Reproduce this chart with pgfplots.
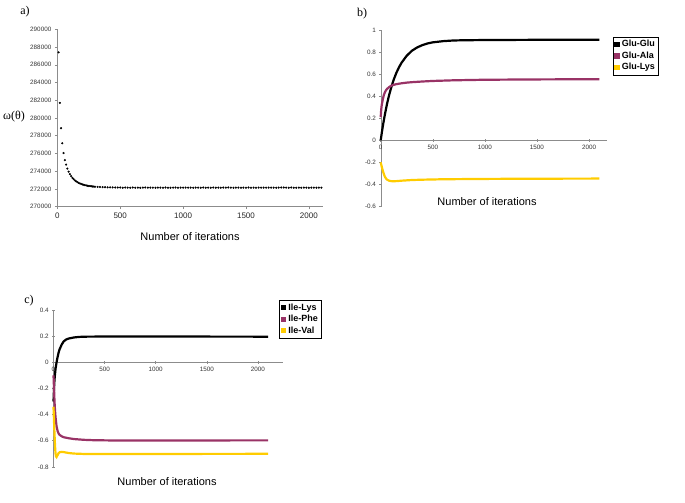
\documentclass[border=0pt]{standalone}
\usepackage{fontspec}
\setmainfont{Liberation Sans}
\newfontfamily\seriffont{Liberation Serif}
\usepackage{pgfplots}
\pgfplotsset{compat=1.18}
\definecolor{maroon}{HTML}{993366}
\definecolor{gold}{HTML}{FFCC00}
\definecolor{axgray}{HTML}{8C8C8C}
\pgfplotsset{
  base/.style={
    scale only axis,
    axis line style={axgray,-},
    tick style={axgray, line width=0.5pt},
    tick align=outside,
    major tick length=2.5pt,
    /pgf/number format/assume math mode=true,
    /pgf/number format/1000 sep={},
    scaled ticks=false,
    clip=false,
  },
  legstyle/.style={
    legend cell align=left,
    legend style={draw=black, line width=0.4pt, fill=white, font=\fontsize{9}{10.5}\selectfont\bfseries,
      inner sep=1.5pt, row sep=-0.5pt},
    legend image code/.code={\fill[##1] (0.5pt,-1.6pt) rectangle (3.7pt,1.6pt);},
  },
}
\begin{document}
\begin{tikzpicture}
\useasboundingbox (0,0) rectangle (685pt,503pt);
% ---------------- panel a
\begin{axis}[base,
  at={(57.3pt,296.3pt)}, anchor=south west,
  width=265.4pt, height=177.4pt,
  xmin=0, xmax=2110, ymin=270000, ymax=290000,
  axis x line*=bottom, axis y line*=left,
  xtick={0,500,1000,1500,2000},
  ytick={270000,272000,...,290000},
  yticklabel style={font=\fontsize{6.3}{7}\selectfont, /pgf/number format/fixed, text=black!80},
  xticklabel style={font=\fontsize{8}{9}\selectfont, text=black!85},
]
\addplot[only marks, mark=*, mark size=0.85pt, black] coordinates {
(10,287400)(20,281700)(30,278850)(40,277150)(50,276050)(60,275250)(70,274750)(80,274300)(90,273950)(100,273680)
(110,273450)(120,273260)(130,273100)(140,272970)(150,272860)(160,272770)(170,272690)(180,272620)(190,272560)(200,272510)
(210,272470)(220,272430)(230,272400)(240,272370)(250,272340)(260,272320)(270,272300)(280,272280)(290,272265)(300,272250)
(320,272230)(340,272220)(360,272200)(380,272195)(400,272185)(420,272180)(440,272170)(460,272165)(480,272160)
(500,272160)(520,272140)(540,272155)(560,272150)(580,272135)(600,272160)(620,272145)(640,272150)(660,272130)(680,272155)
(700,272165)(720,272140)(740,272150)(760,272145)(780,272135)(800,272155)(820,272150)(840,272140)(860,272160)(880,272145)
(900,272130)(920,272150)(940,272155)(960,272140)(980,272150)(1000,272145)(1020,272160)(1040,272140)(1060,272150)(1080,272135)
(1100,272155)(1120,272150)(1140,272140)(1160,272160)(1180,272145)(1200,272150)(1220,272135)(1240,272155)(1260,272145)(1280,272150)
(1300,272140)(1320,272160)(1340,272150)(1360,272165)(1380,272145)(1400,272135)(1420,272150)(1440,272155)(1460,272140)(1480,272150)
(1500,272145)(1520,272160)(1540,272140)(1560,272150)(1580,272135)(1600,272155)(1620,272145)(1640,272150)(1660,272140)(1680,272160)
(1700,272150)(1720,272145)(1740,272135)(1760,272155)(1780,272160)(1800,272170)(1820,272150)(1840,272140)(1860,272155)(1880,272145)
(1900,272130)(1920,272150)(1940,272140)(1960,272155)(1980,272145)(2000,272135)(2020,272150)(2040,272145)(2060,272140)(2080,272150)
(2100,272145)
};
\end{axis}
% ---------------- panel b
\begin{axis}[base, legstyle,
  at={(380.7pt,296.5pt)}, anchor=south west,
  width=226.6pt, height=176.5pt,
  xmin=0, xmax=2175, ymin=-0.6, ymax=1,
  axis x line=middle, axis y line=left,
  x axis line style={-}, y axis line style={-},
  hide obscured x ticks=false, hide obscured y ticks=false,
  xtick={0,500,1000,1500,2000},
  ytick={-0.6,-0.4,...,1.01},
  yticklabel style={font=\fontsize{6.3}{7}\selectfont, /pgf/number format/fixed, text=black!80},
  xticklabel style={font=\fontsize{6.3}{7}\selectfont, text=black!80},
  legend style={at={(1,1)}, anchor=north west, xshift=5.4pt, yshift=-6.7pt},
]
\addplot[color=black, line width=2.2pt] coordinates {
(0,0)(10,0.065)(20,0.125)(30,0.181)(40,0.233)(50,0.281)(60,0.327)(80,0.407)(100,0.476)(125,0.550)
(150,0.611)(175,0.661)(200,0.703)(250,0.767)(300,0.812)(350,0.842)(400,0.863)(450,0.878)(500,0.888)
(600,0.899)(700,0.905)(800,0.907)(1000,0.909)(1500,0.911)(2100,0.912)};
\addlegendentry{Glu-Glu}
\addplot[color=maroon, line width=2.2pt] coordinates {
(0,0.21)(5,0.28)(10,0.32)(20,0.37)(30,0.41)(40,0.435)(50,0.452)(60,0.465)(80,0.482)(100,0.494)
(125,0.503)(150,0.509)(200,0.517)(250,0.523)(300,0.527)(400,0.533)(500,0.538)(700,0.544)(1000,0.549)(1500,0.552)(2100,0.554)};
\addlegendentry{Glu-Ala}
\addplot[color=gold, line width=2.2pt] coordinates {
(0,-0.2)(10,-0.24)(20,-0.275)(30,-0.305)(40,-0.33)(50,-0.345)(60,-0.356)(80,-0.366)(100,-0.37)(125,-0.371)
(150,-0.370)(200,-0.366)(300,-0.36)(400,-0.357)(600,-0.353)(1000,-0.35)(1500,-0.348)(2100,-0.347)};
\addlegendentry{Glu-Lys}
\end{axis}
% ---------------- panel c
\begin{axis}[base, legstyle,
  at={(53.5pt,36.1pt)}, anchor=south west,
  width=229.2pt, height=156.9pt,
  xmin=0, xmax=2243, ymin=-0.8, ymax=0.4,
  axis x line=middle, axis y line=left,
  x axis line style={-}, y axis line style={-},
  hide obscured x ticks=false, hide obscured y ticks=false,
  xtick={0,500,1000,1500,2000},
  ytick={-0.8,-0.6,...,0.41},
  yticklabel style={font=\fontsize{6.3}{7}\selectfont, /pgf/number format/fixed, text=black!80},
  xticklabel style={font=\fontsize{6.3}{7}\selectfont, text=black!80},
  legend style={at={(1,1)}, anchor=north west, xshift=-3.4pt, yshift=10pt},
]
\addplot[color=black, line width=2.2pt] coordinates {
(0,-0.3)(5,-0.2)(10,-0.13)(20,-0.05)(30,0.0)(40,0.04)(50,0.075)(60,0.10)(80,0.135)(100,0.16)
(125,0.175)(150,0.182)(200,0.19)(250,0.194)(300,0.196)(500,0.197)(1000,0.197)(2100,0.196)};
\addlegendentry{Ile-Lys}
\addplot[color=maroon, line width=2.2pt] coordinates {
(0,-0.1)(5,-0.2)(10,-0.3)(15,-0.37)(20,-0.42)(30,-0.49)(40,-0.525)(50,-0.545)(60,-0.555)(80,-0.566)
(100,-0.573)(150,-0.581)(200,-0.587)(300,-0.593)(400,-0.596)(600,-0.598)(1000,-0.598)(2100,-0.597)};
\addlegendentry{Ile-Phe}
\addplot[color=gold, line width=2.2pt] coordinates {
(0,-0.34)(5,-0.45)(10,-0.55)(15,-0.64)(20,-0.70)(25,-0.72)(30,-0.725)(40,-0.71)(50,-0.695)(60,-0.688)
(80,-0.685)(100,-0.687)(150,-0.694)(200,-0.698)(300,-0.701)(500,-0.702)(1000,-0.701)(2100,-0.700)};
\addlegendentry{Ile-Val}
\end{axis}
% ---------------- texts
\node[font=\seriffont\fontsize{12}{14}\selectfont] at (25pt,491pt) {a)};
\node[font=\seriffont\fontsize{12}{14}\selectfont] at (362pt,489pt) {b)};
\node[font=\seriffont\fontsize{12}{14}\selectfont] at (29pt,202pt) {c)};
\node[font=\seriffont\fontsize{12}{14}\selectfont, inner sep=0pt] at (14pt,386pt) {ω(θ)};
\node[font=\fontsize{11}{13}\selectfont] at (190pt,266pt) {Number of iterations};
\node[font=\fontsize{11}{13}\selectfont] at (487pt,301pt) {Number of iterations};
\node[font=\fontsize{11}{13}\selectfont] at (167pt,21pt) {Number of iterations};
\end{tikzpicture}
\end{document}
